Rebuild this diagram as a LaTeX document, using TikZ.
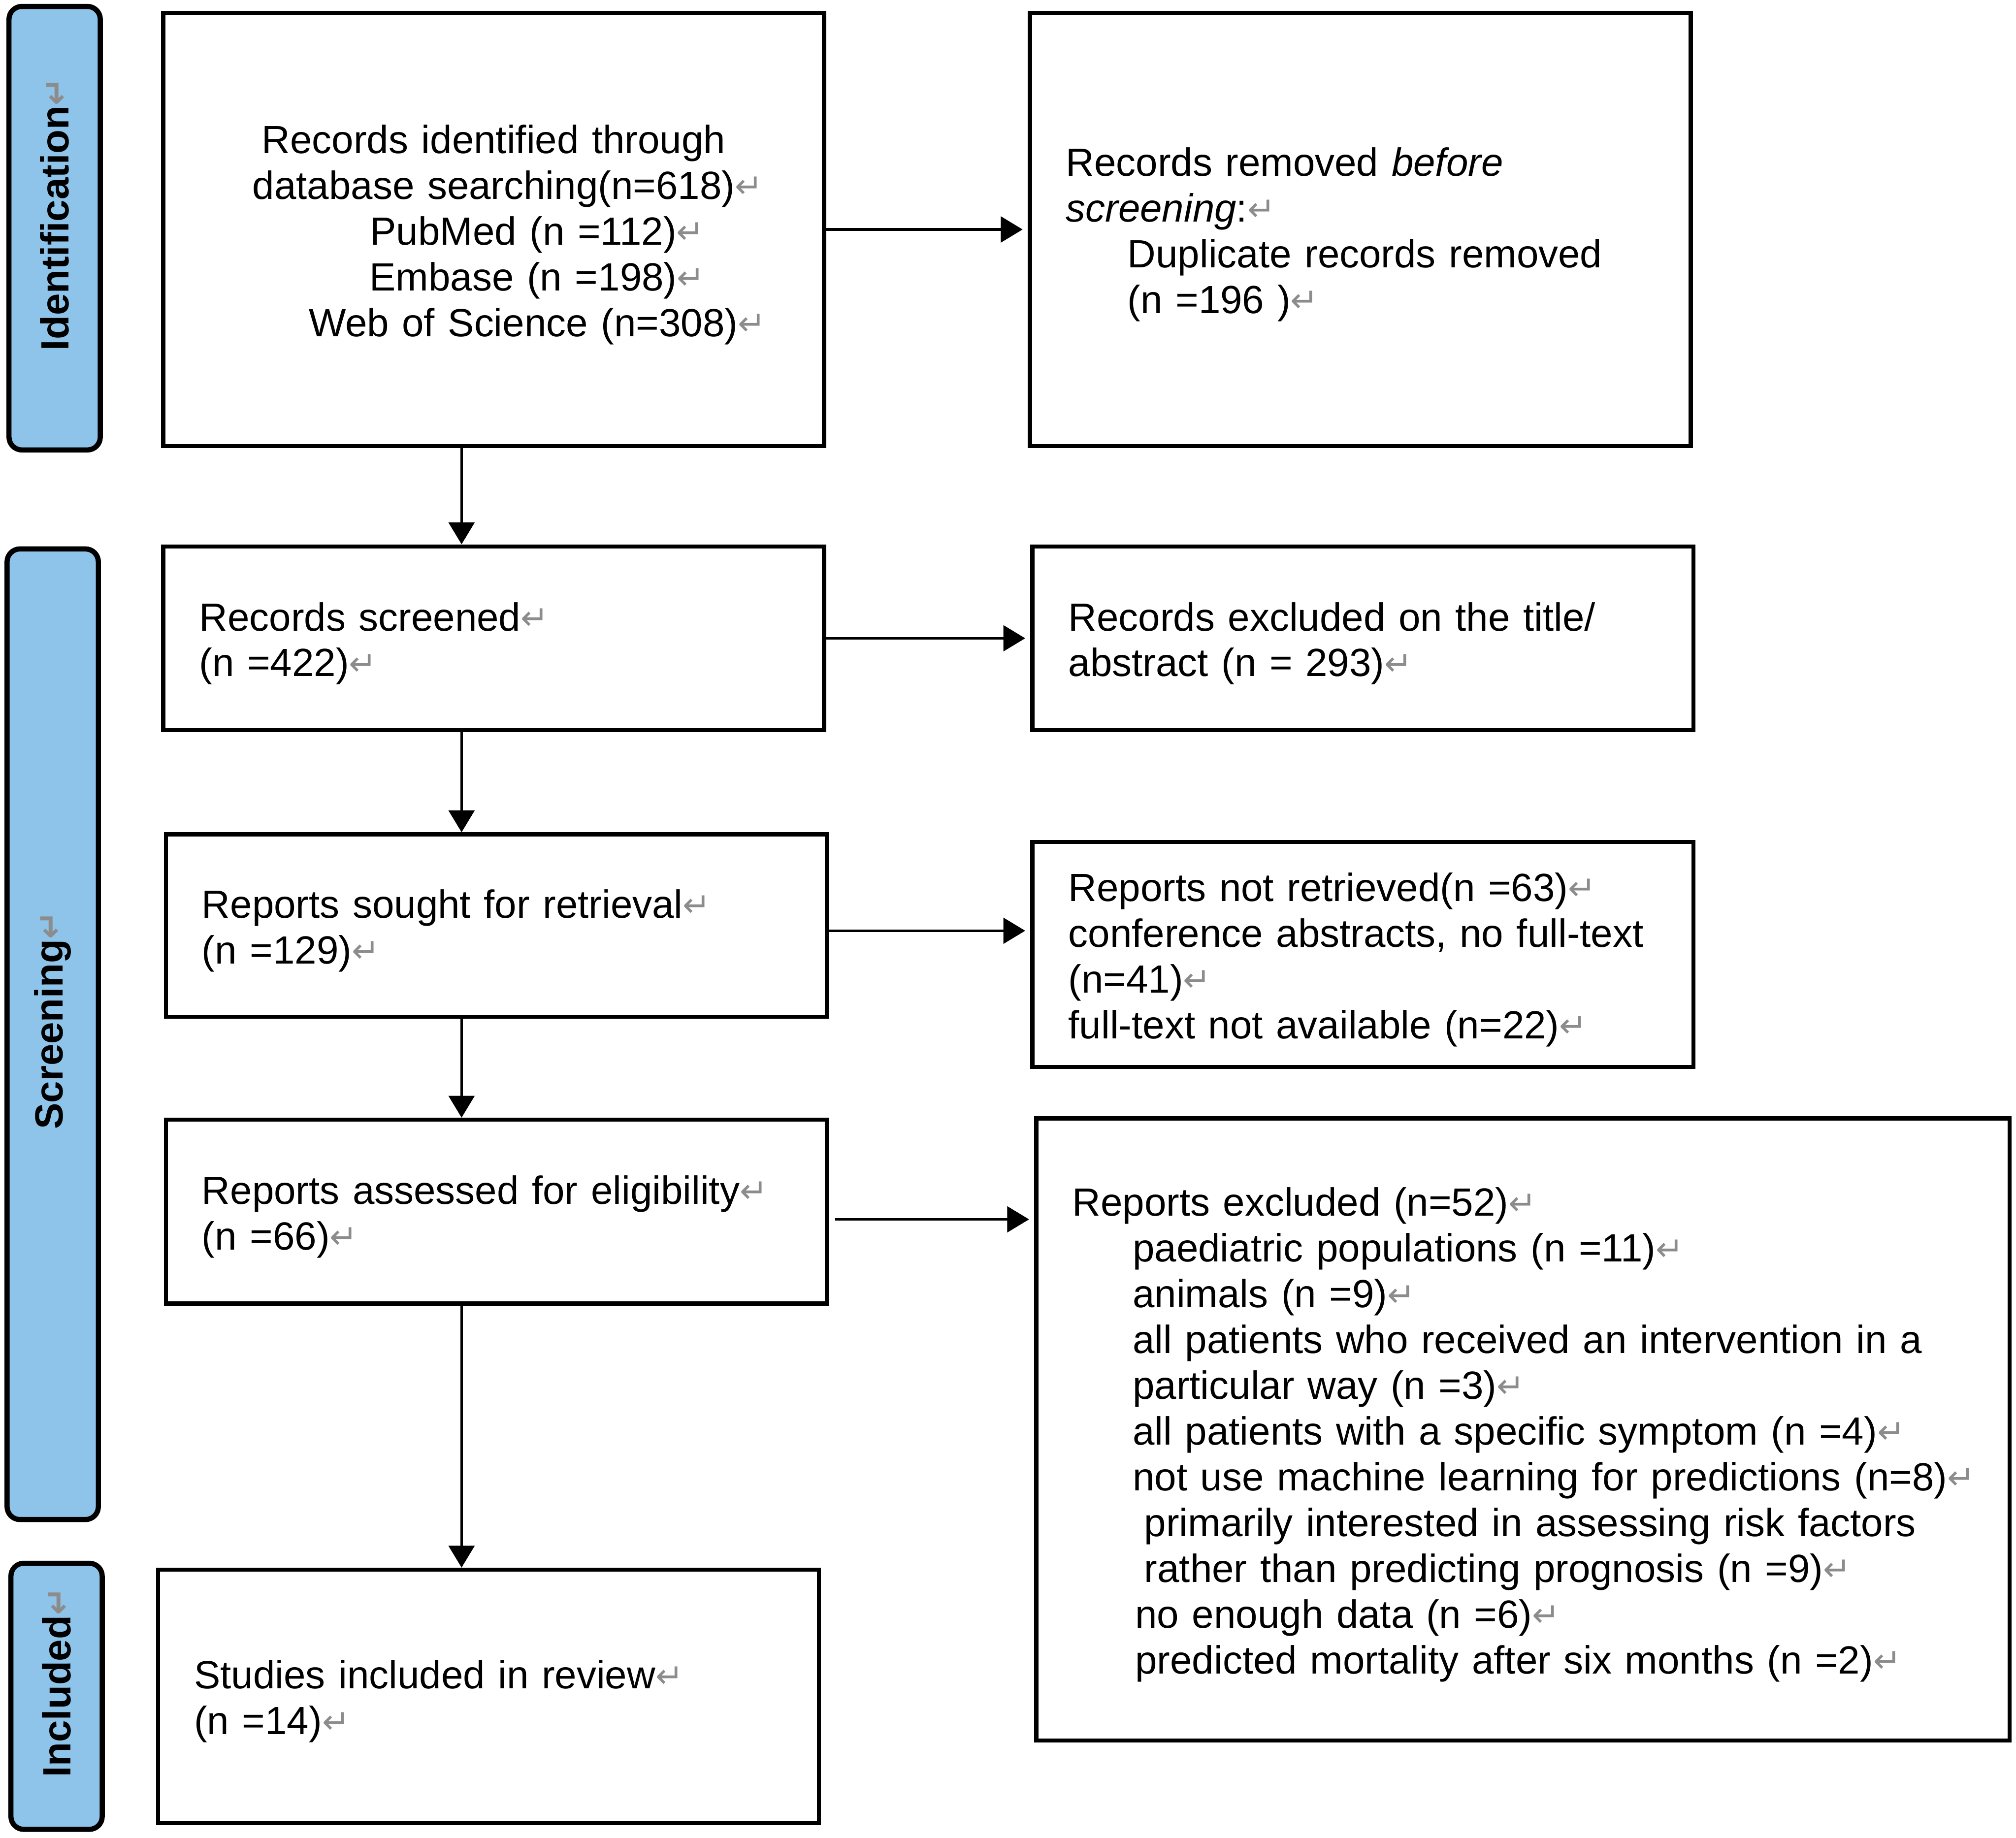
\documentclass[tikz,border=0pt]{standalone}
\usepackage{fontspec}
\setmainfont{Liberation Sans}
\newfontfamily\markfont{DejaVu Sans}
\usetikzlibrary{arrows.meta}
\definecolor{phaseblue}{RGB}{142,195,234}
\definecolor{markgray}{RGB}{140,140,140}
\newcommand{\ret}{\rlap{\raisebox{0.5pt}{\textcolor{markgray}{\markfont\fontsize{13}{13}\selectfont ↵}}}}

\begin{document}
\begin{tikzpicture}[x=0.5pt,y=-0.5pt,
        font=\fontsize{15.3}{17.8}\selectfont,
        box/.style={draw,line width=1.6pt,inner xsep=14pt,inner ysep=0pt,minimum width=257pt,text width=229pt,align=left,
            execute at end node={\endgraf\kern-4pt}},
        wide box/.style={box,minimum width=378.5pt,text width=350.5pt},
        phase/.style={draw,line width=2pt,fill=phaseblue,rounded corners=5pt,rotate=90,minimum height=35.5pt,inner sep=0pt,font=\fontsize{15.3}{17}\selectfont\bfseries},
        arr/.style={-{Triangle[length=8.5pt,width=10pt]},line width=1pt}]

    \useasboundingbox (0,0) rectangle (1568,1429.4);

    \node[phase,minimum width=172.5pt] (ident) at (42.5,177.5) {Identification\ret};
    \node[phase,minimum width=377.5pt] (screen) at (41,804.5) {Screening\ret};
    \node[phase,minimum width=103.5pt] (incl) at (44,1319.5) {Included\ret};

    \node[box,align=center,minimum height=168.5pt] (found) at (384,178.5)
        {Records identified through\\
        database searching(n=618)\ret\\
        \hspace*{23pt}PubMed (n =112)\ret\\
        \hspace*{23pt}Embase (n =198)\ret\\
        \hspace*{23pt}Web of Science (n=308)\ret};
    \node[box,minimum height=168.5pt] (dupes) at (1058,178.5)
        {Records removed \textit{before}\\
        \textit{screening}:\ret\\
        \hspace*{24pt}Duplicate records removed\\
        \hspace*{24pt}(n =196 )\ret};

    \node[box,minimum height=71.5pt] (screened) at (384,496.5)
        {Records screened\ret\\(n =422)\ret};
    \node[box,minimum height=71.5pt] (titleout) at (1060,496.5)
        {Records excluded on the title/\\abstract (n = 293)\ret};

    \node[box,minimum height=71pt] (sought) at (386,720)
        {Reports sought for retrieval\ret\\(n =129)\ret};
    \node[box,minimum height=87.5pt] (notret) at (1060,742.5)
        {Reports not retrieved(n =63)\ret\\
        conference abstracts, no full-text\\
        (n=41)\ret\\
        full-text not available (n=22)\ret};

    \node[box,minimum height=71.5pt] (assessed) at (386,942.5)
        {Reports assessed for eligibility\ret\\(n =66)\ret};
    \node[wide box,minimum height=242pt] (excl) at (1184.5,1112)
        {Reports excluded (n=52)\ret\\
        \hspace*{23.5pt}paediatric populations (n =11)\ret\\
        \hspace*{23.5pt}animals (n =9)\ret\\
        \hspace*{23.5pt}all patients who received an intervention in a\\
        \hspace*{23.5pt}particular way (n =3)\ret\\
        \hspace*{23.5pt}all patients with a specific symptom (n =4)\ret\\
        \hspace*{23.5pt}not use machine learning for predictions (n=8)\ret\\
        \hspace*{28pt}primarily interested in assessing risk factors\\
        \hspace*{28pt}rather than predicting prognosis (n =9)\ret\\
        \hspace*{24.5pt}no enough data (n =6)\ret\\
        \hspace*{24.5pt}predicted mortality after six months (n =2)\ret};

    \node[box,minimum height=98.5pt] (studies) at (380,1319.5)
        {Studies included in review\ret\\(n =14)\ret};

    \coordinate (spine) at (359,0);
    \draw[arr] (found.south -| spine) -- (screened.north -| spine);
    \draw[arr] (screened.south -| spine) -- (sought.north -| spine);
    \draw[arr] (sought.south -| spine) -- (assessed.north -| spine);
    \draw[arr] (assessed.south -| spine) -- (studies.north -| spine);

    \draw[arr,shorten >=2pt] (found) -- (dupes);
    \draw[arr,shorten >=2pt] (screened) -- (titleout);
    \draw[arr,shorten >=2pt] ([yshift=-2pt]sought.east) -- ([yshift=-2pt]sought.east -| notret.west);
    \draw[arr,shorten >=2pt] ([xshift=2.5pt,yshift=-3pt]assessed.east) -- ([yshift=-3pt]assessed.east -| excl.west);
\end{tikzpicture}
\end{document}
